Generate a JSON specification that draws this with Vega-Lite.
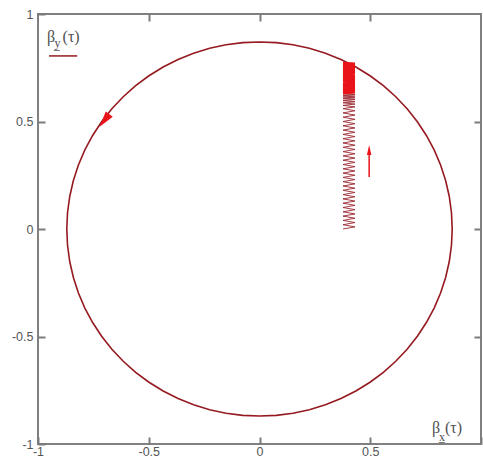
{
  "$schema": "https://vega.github.io/schema/vega-lite/v6.json",
  "autosize": {"type": "none"},
  "width": 443,
  "height": 430,
  "padding": {"left": 38, "top": 14, "right": 2, "bottom": 17},
  "background": "white",
  "config": {
    "view": {"stroke": "#808080", "strokeWidth": 2},
    "axis": {"domain": false, "grid": false, "tickColor": "#7a7a7a", "tickWidth": 2, "labelColor": "#555555", "labelFont": "Liberation Sans", "labelFontSize": 12.5, "labelFlush": false, "labelOverlap": false}
  },
  "datasets": {
    "circle": [
      {"t":0,"x":0.87,"y":0},{"t":1,"x":0.8667,"y":0.0758},{"t":2,"x":0.8568,"y":0.1511},{"t":3,"x":0.8403,"y":0.2252},{"t":4,"x":0.8175,"y":0.2975},{"t":5,"x":0.7885,"y":0.3677},{"t":6,"x":0.7534,"y":0.435},{"t":7,"x":0.7127,"y":0.499},{"t":8,"x":0.6665,"y":0.5592},{"t":9,"x":0.6152,"y":0.6152},{"t":10,"x":0.5592,"y":0.6665},{"t":11,"x":0.499,"y":0.7127},{"t":12,"x":0.435,"y":0.7534},{"t":13,"x":0.3677,"y":0.7885},{"t":14,"x":0.2975,"y":0.8175},{"t":15,"x":0.2252,"y":0.8403},{"t":16,"x":0.1511,"y":0.8568},{"t":17,"x":0.0758,"y":0.8667},{"t":18,"x":0,"y":0.87},
      {"t":19,"x":-0.0758,"y":0.8667},{"t":20,"x":-0.1511,"y":0.8568},{"t":21,"x":-0.2252,"y":0.8403},{"t":22,"x":-0.2975,"y":0.8175},{"t":23,"x":-0.3677,"y":0.7885},{"t":24,"x":-0.435,"y":0.7534},{"t":25,"x":-0.499,"y":0.7127},{"t":26,"x":-0.5592,"y":0.6665},{"t":27,"x":-0.6152,"y":0.6152},{"t":28,"x":-0.6665,"y":0.5592},{"t":29,"x":-0.7127,"y":0.499},{"t":30,"x":-0.7534,"y":0.435},{"t":31,"x":-0.7885,"y":0.3677},{"t":32,"x":-0.8175,"y":0.2975},{"t":33,"x":-0.8403,"y":0.2252},{"t":34,"x":-0.8568,"y":0.1511},{"t":35,"x":-0.8667,"y":0.0758},{"t":36,"x":-0.87,"y":0},
      {"t":37,"x":-0.8667,"y":-0.0758},{"t":38,"x":-0.8568,"y":-0.1511},{"t":39,"x":-0.8403,"y":-0.2252},{"t":40,"x":-0.8175,"y":-0.2975},{"t":41,"x":-0.7885,"y":-0.3677},{"t":42,"x":-0.7534,"y":-0.435},{"t":43,"x":-0.7127,"y":-0.499},{"t":44,"x":-0.6665,"y":-0.5592},{"t":45,"x":-0.6152,"y":-0.6152},{"t":46,"x":-0.5592,"y":-0.6665},{"t":47,"x":-0.499,"y":-0.7127},{"t":48,"x":-0.435,"y":-0.7534},{"t":49,"x":-0.3677,"y":-0.7885},{"t":50,"x":-0.2975,"y":-0.8175},{"t":51,"x":-0.2252,"y":-0.8403},{"t":52,"x":-0.1511,"y":-0.8568},{"t":53,"x":-0.0758,"y":-0.8667},{"t":54,"x":0,"y":-0.87},
      {"t":55,"x":0.0758,"y":-0.8667},{"t":56,"x":0.1511,"y":-0.8568},{"t":57,"x":0.2252,"y":-0.8403},{"t":58,"x":0.2975,"y":-0.8175},{"t":59,"x":0.3677,"y":-0.7885},{"t":60,"x":0.435,"y":-0.7534},{"t":61,"x":0.499,"y":-0.7127},{"t":62,"x":0.5592,"y":-0.6665},{"t":63,"x":0.6152,"y":-0.6152},{"t":64,"x":0.6665,"y":-0.5592},{"t":65,"x":0.7127,"y":-0.499},{"t":66,"x":0.7534,"y":-0.435},{"t":67,"x":0.7885,"y":-0.3677},{"t":68,"x":0.8175,"y":-0.2975},{"t":69,"x":0.8403,"y":-0.2252},{"t":70,"x":0.8568,"y":-0.1511},{"t":71,"x":0.8667,"y":-0.0758},{"t":72,"x":0.87,"y":0}
    ],
    "zig": [
      {"t":0,"x":0.377,"y":0},{"t":1,"x":0.431,"y":0.01},{"t":2,"x":0.377,"y":0.02},{"t":3,"x":0.431,"y":0.03},{"t":4,"x":0.377,"y":0.04},{"t":5,"x":0.431,"y":0.05},{"t":6,"x":0.377,"y":0.06},{"t":7,"x":0.431,"y":0.07},{"t":8,"x":0.377,"y":0.08},{"t":9,"x":0.431,"y":0.09},
      {"t":10,"x":0.377,"y":0.10},{"t":11,"x":0.431,"y":0.11},{"t":12,"x":0.377,"y":0.12},{"t":13,"x":0.431,"y":0.13},{"t":14,"x":0.377,"y":0.14},{"t":15,"x":0.431,"y":0.15},{"t":16,"x":0.377,"y":0.16},{"t":17,"x":0.431,"y":0.17},{"t":18,"x":0.377,"y":0.18},{"t":19,"x":0.431,"y":0.19},
      {"t":20,"x":0.377,"y":0.20},{"t":21,"x":0.431,"y":0.21},{"t":22,"x":0.377,"y":0.22},{"t":23,"x":0.431,"y":0.23},{"t":24,"x":0.377,"y":0.24},{"t":25,"x":0.431,"y":0.25},{"t":26,"x":0.377,"y":0.26},{"t":27,"x":0.431,"y":0.27},{"t":28,"x":0.377,"y":0.28},{"t":29,"x":0.431,"y":0.29},
      {"t":30,"x":0.377,"y":0.30},{"t":31,"x":0.431,"y":0.31},{"t":32,"x":0.377,"y":0.32},{"t":33,"x":0.431,"y":0.33},{"t":34,"x":0.377,"y":0.34},{"t":35,"x":0.431,"y":0.35},{"t":36,"x":0.377,"y":0.36},{"t":37,"x":0.431,"y":0.37},{"t":38,"x":0.377,"y":0.38},{"t":39,"x":0.431,"y":0.39},
      {"t":40,"x":0.377,"y":0.40},{"t":41,"x":0.431,"y":0.41},{"t":42,"x":0.377,"y":0.42},{"t":43,"x":0.431,"y":0.43},{"t":44,"x":0.377,"y":0.44},{"t":45,"x":0.431,"y":0.45},{"t":46,"x":0.377,"y":0.46},{"t":47,"x":0.431,"y":0.47},{"t":48,"x":0.377,"y":0.48},{"t":49,"x":0.431,"y":0.49},
      {"t":50,"x":0.377,"y":0.50},{"t":51,"x":0.431,"y":0.51},{"t":52,"x":0.377,"y":0.52},{"t":53,"x":0.431,"y":0.53},{"t":54,"x":0.377,"y":0.54},{"t":55,"x":0.431,"y":0.55},{"t":56,"x":0.377,"y":0.56},{"t":57,"x":0.431,"y":0.568},{"t":58,"x":0.377,"y":0.575},{"t":59,"x":0.431,"y":0.581},
      {"t":60,"x":0.377,"y":0.587},{"t":61,"x":0.431,"y":0.592},{"t":62,"x":0.377,"y":0.597},{"t":63,"x":0.431,"y":0.602},{"t":64,"x":0.377,"y":0.606},{"t":65,"x":0.431,"y":0.610},{"t":66,"x":0.377,"y":0.614},{"t":67,"x":0.431,"y":0.618},{"t":68,"x":0.377,"y":0.622},{"t":69,"x":0.431,"y":0.626},{"t":70,"x":0.377,"y":0.630}
    ],
    "dense": [
      {"t":0,"x":0.377,"y":0.630},{"t":1,"x":0.431,"y":0.634},{"t":2,"x":0.377,"y":0.638},{"t":3,"x":0.431,"y":0.642},{"t":4,"x":0.377,"y":0.646},{"t":5,"x":0.431,"y":0.650},{"t":6,"x":0.377,"y":0.654},{"t":7,"x":0.431,"y":0.658},{"t":8,"x":0.377,"y":0.662},{"t":9,"x":0.431,"y":0.666},
      {"t":10,"x":0.377,"y":0.670},{"t":11,"x":0.431,"y":0.674},{"t":12,"x":0.377,"y":0.678},{"t":13,"x":0.431,"y":0.682},{"t":14,"x":0.377,"y":0.686},{"t":15,"x":0.431,"y":0.690},{"t":16,"x":0.377,"y":0.694},{"t":17,"x":0.431,"y":0.698},{"t":18,"x":0.377,"y":0.702},{"t":19,"x":0.431,"y":0.706},
      {"t":20,"x":0.377,"y":0.710},{"t":21,"x":0.431,"y":0.714},{"t":22,"x":0.377,"y":0.718},{"t":23,"x":0.431,"y":0.722},{"t":24,"x":0.377,"y":0.726},{"t":25,"x":0.431,"y":0.730},{"t":26,"x":0.377,"y":0.734},{"t":27,"x":0.431,"y":0.738},{"t":28,"x":0.377,"y":0.742},{"t":29,"x":0.431,"y":0.746},
      {"t":30,"x":0.377,"y":0.750},{"t":31,"x":0.431,"y":0.754},{"t":32,"x":0.377,"y":0.758},{"t":33,"x":0.431,"y":0.762},{"t":34,"x":0.377,"y":0.766},{"t":35,"x":0.431,"y":0.770},{"t":36,"x":0.377,"y":0.774}
    ],
    "bigText": [
      {"txt": "β", "x": -0.959, "y": 0.870},
      {"txt": "(τ)", "x": -0.889, "y": 0.870},
      {"txt": "β", "x": 0.779, "y": -0.949},
      {"txt": "(τ)", "x": 0.837, "y": -0.949}
    ],
    "subText": [
      {"txt": "y̲", "x": -0.925, "y": 0.847},
      {"txt": "x̲", "x": 0.810, "y": -0.986}
    ]
  },
  "layer": [
    {
      "data": {"name": "circle"},
      "mark": {"type": "line", "color": "#951a20", "strokeWidth": 1.6},
      "encoding": {
        "x": {"field": "x", "type": "quantitative", "scale": {"domain": [-1, 1], "nice": false, "zero": false},
              "axis": {"orient": "bottom", "values": [-1, -0.5, 0, 0.5, 1], "tickSize": 7, "offset": -7, "labelPadding": 1, "title": null, "labelExpr": "datum.value == 1 ? '' : toString(datum.value)"}},
        "y": {"field": "y", "type": "quantitative", "scale": {"domain": [-1, 1], "nice": false, "zero": false},
              "axis": {"orient": "left", "values": [-1, -0.5, 0, 0.5, 1], "tickSize": 7, "offset": -7, "labelPadding": 5, "title": null, "labelExpr": "toString(datum.value)"}},
        "order": {"field": "t", "type": "quantitative"}
      }
    },
    {
      "data": {"values": [{"x": -0.70, "y": 0.505}]},
      "mark": {"type": "point", "shape": "M0,-1L0.55,1L-0.55,1Z", "filled": true, "opacity": 1, "color": "#e8141a", "size": 256, "angle": 217},
      "encoding": {
        "x": {"field": "x", "type": "quantitative", "scale": {"domain": [-1, 1], "nice": false, "zero": false},
              "axis": {"orient": "top", "values": [-0.5, 0, 0.5], "tickSize": 7, "offset": -7, "labels": false, "title": null}},
        "y": {"field": "y", "type": "quantitative", "scale": {"domain": [-1, 1], "nice": false, "zero": false},
              "axis": {"orient": "right", "values": [-0.5, 0, 0.5], "tickSize": 7, "offset": -7, "labels": false, "title": null}}
      }
    },
    {
      "data": {"name": "zig"},
      "mark": {"type": "line", "color": "#9a2630", "strokeWidth": 0.9},
      "encoding": {
        "x": {"field": "x", "type": "quantitative", "scale": {"domain": [-1, 1], "nice": false, "zero": false}, "axis": null},
        "y": {"field": "y", "type": "quantitative", "scale": {"domain": [-1, 1], "nice": false, "zero": false}, "axis": null},
        "order": {"field": "t", "type": "quantitative"}
      }
    },
    {
      "data": {"name": "dense"},
      "mark": {"type": "line", "color": "#e8141a", "strokeWidth": 1.7},
      "encoding": {
        "x": {"field": "x", "type": "quantitative", "scale": {"domain": [-1, 1], "nice": false, "zero": false}, "axis": null},
        "y": {"field": "y", "type": "quantitative", "scale": {"domain": [-1, 1], "nice": false, "zero": false}, "axis": null},
        "order": {"field": "t", "type": "quantitative"}
      }
    },
    {
      "data": {"values": [{"x": 0.495, "y": 0.242, "y2": 0.35}]},
      "mark": {"type": "rule", "color": "#e8141a", "strokeWidth": 1.5},
      "encoding": {
        "x": {"field": "x", "type": "quantitative", "scale": {"domain": [-1, 1], "nice": false, "zero": false}, "axis": null},
        "y": {"field": "y", "type": "quantitative", "scale": {"domain": [-1, 1], "nice": false, "zero": false}, "axis": null},
        "y2": {"field": "y2"}
      }
    },
    {
      "data": {"values": [{"x": 0.495, "y": 0.367}]},
      "mark": {"type": "point", "shape": "M0,-1L0.45,1L-0.45,1Z", "filled": true, "opacity": 1, "color": "#e8141a", "size": 100, "angle": 0},
      "encoding": {
        "x": {"field": "x", "type": "quantitative", "scale": {"domain": [-1, 1], "nice": false, "zero": false}, "axis": null},
        "y": {"field": "y", "type": "quantitative", "scale": {"domain": [-1, 1], "nice": false, "zero": false}, "axis": null}
      }
    },
    {
      "data": {"values": [{"x": -0.95, "x2": -0.823, "y": 0.805}]},
      "mark": {"type": "rule", "color": "#951a20", "strokeWidth": 1.5},
      "encoding": {
        "x": {"field": "x", "type": "quantitative", "scale": {"domain": [-1, 1], "nice": false, "zero": false}, "axis": null},
        "x2": {"field": "x2"},
        "y": {"field": "y", "type": "quantitative", "scale": {"domain": [-1, 1], "nice": false, "zero": false}, "axis": null}
      }
    },
    {
      "data": {"name": "bigText"},
      "mark": {"type": "text", "font": "Liberation Serif", "fontSize": 16, "color": "#505050", "align": "left", "baseline": "alphabetic"},
      "encoding": {
        "x": {"field": "x", "type": "quantitative", "scale": {"domain": [-1, 1], "nice": false, "zero": false}, "axis": null},
        "y": {"field": "y", "type": "quantitative", "scale": {"domain": [-1, 1], "nice": false, "zero": false}, "axis": null},
        "text": {"field": "txt"}
      }
    },
    {
      "data": {"name": "subText"},
      "mark": {"type": "text", "font": "Liberation Serif", "fontSize": 12, "color": "#505050", "align": "left", "baseline": "alphabetic"},
      "encoding": {
        "x": {"field": "x", "type": "quantitative", "scale": {"domain": [-1, 1], "nice": false, "zero": false}, "axis": null},
        "y": {"field": "y", "type": "quantitative", "scale": {"domain": [-1, 1], "nice": false, "zero": false}, "axis": null},
        "text": {"field": "txt"}
      }
    }
  ],
  "resolve": {"axis": {"x": "independent", "y": "independent"}}
}
